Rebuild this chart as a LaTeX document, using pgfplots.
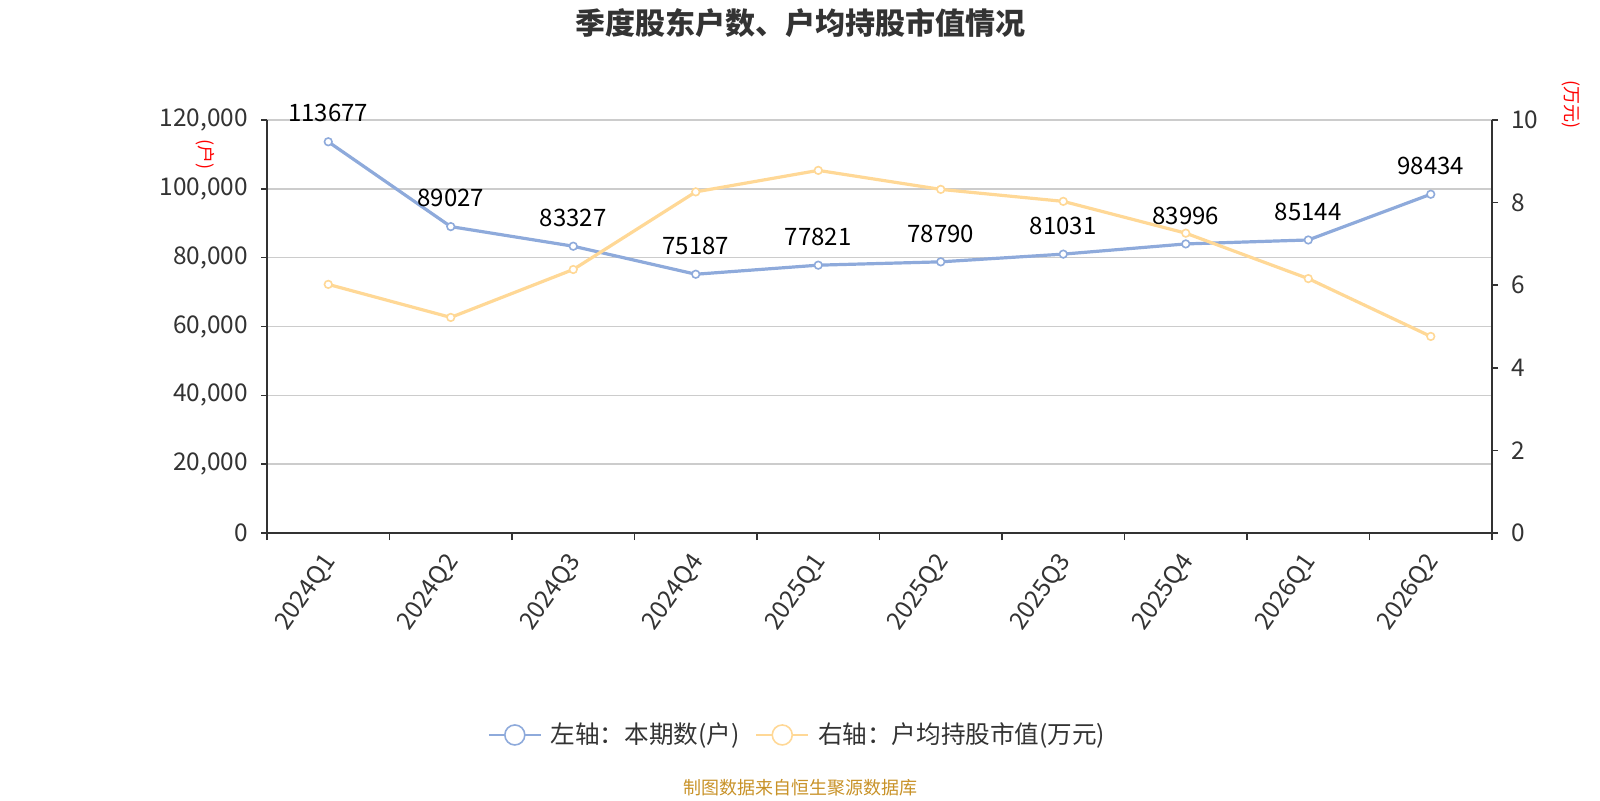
\documentclass[border=0pt]{standalone}
\usepackage{pgfplots}
\pgfplotsset{compat=1.18}
\usepackage{fontspec}
\setmainfont{Noto Sans CJK SC}
\definecolor{sblue}{RGB}{142,170,219}
\definecolor{syellow}{RGB}{255,216,150}
\definecolor{axgray}{RGB}{51,51,51}
\definecolor{gridgray}{RGB}{204,204,204}
\definecolor{footgold}{RGB}{200,146,40}
\begin{document}
\begin{tikzpicture}[x=1pt,y=1pt]
\path[use as bounding box] (0,0) rectangle (800,400);
\pgfplotsset{
  base/.style={
    at={(133.5pt,133.5pt)}, anchor=south west,
    scale only axis, width=612.5pt, height=206.5pt,
    xmin=-0.5, xmax=9.5,
    axis line style={axgray, line width=0.8pt},
    tick align=outside,
    major tick length=3pt, minor tick length=3.5pt,
    every tick/.style={axgray, line width=0.8pt},
    ticklabel style={font=\fontsize{12.2}{14}\selectfont, text=axgray},
    /pgf/number format/assume math mode=true,
    /pgf/number format/fixed,
    /pgf/number format/1000 sep={,},
    scaled y ticks=false,
  }
}
\begin{axis}[base,
  ymin=0, ymax=120000, ytick={0,20000,...,120000},
  axis x line*=bottom, axis y line*=left,
  ymajorgrids, grid style={gridgray, line width=0.75pt},
  xtick={0,...,9},
  xticklabels={2024Q1,2024Q2,2024Q3,2024Q4,2025Q1,2025Q2,2025Q3,2025Q4,2026Q1,2026Q2},
  major x tick style={draw=none},
  minor xtick={-0.5,0.5,...,9.5},
  yticklabel style={xshift=-3pt},
  xticklabel style={rotate=55, anchor=east, xshift=-3.3pt, yshift=-6.3pt},
  legend style={at={(0.434,-0.489)}, anchor=center, legend columns=2,
    draw=none, fill=none, font=\fontsize{12.3}{14}\selectfont, text=axgray,
    /tikz/every odd column/.append style={column sep=2.5pt},
    /tikz/every even column/.append style={column sep=6pt}},
  legend image code/.code={\draw[mark repeat=2,mark phase=2,#1] plot coordinates {(0pt,0pt) (13pt,0pt) (26pt,0pt)};},
]
\addplot[sblue, line width=1.6pt, mark=*, mark size=1.9pt,
  mark options={fill=white, line width=0.8pt},
  point meta=explicit symbolic,
  nodes near coords,
  every node near coord/.append style={font=\fontsize{12}{14}\selectfont, text=black, anchor=south, inner sep=3.33pt, yshift=6pt},
  forget plot]
coordinates {
 (0,113677) [113677]
 (1,89027) [89027]
 (2,83327) [83327]
 (3,75187) [75187]
 (4,77821) [77821]
 (5,78790) [78790]
 (6,81031) [81031]
 (7,83996) [83996]
 (8,85144) [85144]
 (9,98434) [98434]
};
\addlegendimage{sblue, line width=0.8pt, mark=*, mark size=5pt, mark options={fill=white, line width=0.8pt}}
\addlegendentry{左轴：本期数(户)}
\addlegendimage{syellow, line width=0.8pt, mark=*, mark size=5pt, mark options={fill=white, line width=0.8pt}}
\addlegendentry{右轴：户均持股市值(万元)}
\end{axis}
\begin{axis}[base,
  ymin=0, ymax=10, ytick={0,2,...,10},
  axis y line*=right, axis x line=none,
  yticklabel style={xshift=3pt},
]
\addplot[syellow, line width=1.6pt, mark=*, mark size=1.9pt,
  mark options={fill=white, line width=0.8pt}]
coordinates {
 (0,6.02) (1,5.22) (2,6.38) (3,8.26) (4,8.78)
 (5,8.32) (6,8.03) (7,7.26) (8,6.16) (9,4.76)
};
\end{axis}
\node[font=\fontsize{15}{18}\selectfont\bfseries, text=axgray] at (400,388.5) {季度股东户数、户均持股市值情况};
\node[font=\fontsize{9}{10}\selectfont, text=red, rotate=-90] at (102.5,322.5) {(户)};
\node[font=\fontsize{9}{10}\selectfont, text=red, rotate=-90] at (785.5,347.5) {(万元)};
\node[font=\fontsize{9}{11}\selectfont, text=footgold] at (400,6) {制图数据来自恒生聚源数据库};
\end{tikzpicture}
\end{document}
